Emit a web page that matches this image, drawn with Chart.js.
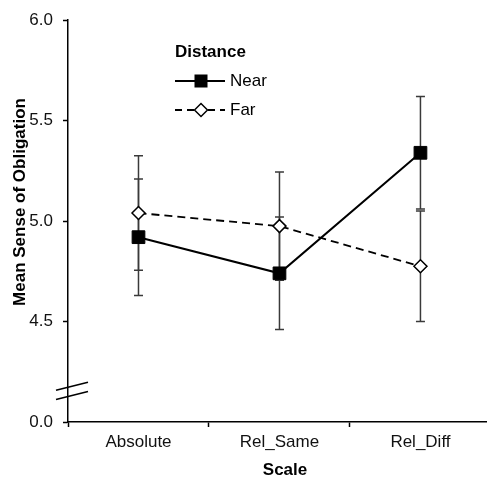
<!DOCTYPE html>
<html><head><meta charset="utf-8">
<script src="https://cdn.jsdelivr.net/npm/chart.js@4/dist/chart.umd.min.js"></script>
<style>html,body{margin:0;padding:0;background:#fff;overflow:hidden;width:487px;height:479px}</style>
</head><body><canvas id="c" width="497" height="479"></canvas>
<script>
const categories = ['Absolute', 'Rel_Same', 'Rel_Diff'];
const nearMeans = [4.92, 4.74, 5.34];
const nearErr = [0.29, 0.28, 0.28];
const farMeans = [5.04, 4.975, 4.775];
const farErr = [0.285, 0.27, 0.275];
const yTickValues = [4.0, 4.5, 5.0, 5.5, 6.0];
const yTickLabels = ['0.0', '4.5', '5.0', '5.5', '6.0'];
const seriesNames = ['Near', 'Far'];
const legendTitle = 'Distance';
const xTitle = 'Scale';
const yTitle = 'Mean Sense of Obligation';
const breakValue = 4.155;

const FONT = '"Liberation Sans", Arial, Helvetica, sans-serif';
const toPoints = (arr) => arr.map((v, i) => ({x: i + 0.5, y: v}));
const errs = [nearErr, farErr];

const errorBars = {
  id: 'errorBars',
  beforeDatasetsDraw(chart) {
    const {ctx, scales: {x, y}} = chart;
    ctx.save();
    ctx.strokeStyle = '#3a3a3a';
    ctx.lineWidth = 1.5;
    chart.data.datasets.forEach((ds, di) => {
      ds.data.forEach((p, i) => {
        const px = x.getPixelForValue(p.x);
        const yt = y.getPixelForValue(p.y + errs[di][i]);
        const yb = y.getPixelForValue(p.y - errs[di][i]);
        ctx.beginPath();
        ctx.moveTo(px, yt); ctx.lineTo(px, yb);
        ctx.moveTo(px - 4.5, yt); ctx.lineTo(px + 4.5, yt);
        ctx.moveTo(px - 4.5, yb); ctx.lineTo(px + 4.5, yb);
        ctx.stroke();
      });
    });
    ctx.restore();
  }
};

const axisExtras = {
  id: 'axisExtras',
  afterDraw(chart) {
    const {ctx, scales: {y}} = chart;
    const x0 = y.right + 4;
    const yc = y.getPixelForValue(breakValue);
    ctx.save();
    ctx.strokeStyle = '#000';
    ctx.lineWidth = 1.5;
    [-4.7, 4.7].forEach(o => {
      ctx.beginPath();
      ctx.moveTo(x0 - 16, yc + o + 4);
      ctx.lineTo(x0 + 16, yc + o - 4);
      ctx.stroke();
    });
    ctx.fillStyle = '#000';
    ctx.textAlign = 'center';
    ctx.textBaseline = 'middle';
    ctx.font = 'bold 17px ' + FONT;
    ctx.fillText(xTitle, 285, 470);
    ctx.translate(20, 202);
    ctx.rotate(-Math.PI / 2);
    ctx.fillText(yTitle, 0, 0);
    ctx.restore();
  }
};

const customLegend = {
  id: 'customLegend',
  afterDraw(chart) {
    const ctx = chart.ctx;
    ctx.save();
    ctx.fillStyle = '#000';
    ctx.textBaseline = 'middle';
    ctx.textAlign = 'left';
    ctx.font = 'bold 17px ' + FONT;
    ctx.fillText(legendTitle, 175, 52);
    ctx.strokeStyle = '#000';
    ctx.lineWidth = 2;
    ctx.beginPath(); ctx.moveTo(175, 81); ctx.lineTo(225, 81); ctx.stroke();
    ctx.fillRect(201 - 6.5, 81 - 6.5, 13, 13);
    ctx.font = '17px ' + FONT;
    ctx.fillText(seriesNames[0], 230, 81);
    ctx.lineWidth = 1.8;
    ctx.setLineDash([7, 5]);
    ctx.beginPath(); ctx.moveTo(175, 110); ctx.lineTo(194, 110); ctx.stroke();
    ctx.beginPath(); ctx.moveTo(208, 110); ctx.lineTo(225, 110); ctx.stroke();
    ctx.setLineDash([]);
    ctx.lineWidth = 1.5;
    ctx.fillStyle = '#fff';
    ctx.beginPath();
    ctx.moveTo(201 - 6.5, 110); ctx.lineTo(201, 110 - 6.5); ctx.lineTo(201 + 6.5, 110); ctx.lineTo(201, 110 + 6.5); ctx.closePath();
    ctx.fill(); ctx.stroke();
    ctx.fillStyle = '#000';
    ctx.fillText(seriesNames[1], 230, 110);
    ctx.restore();
  }
};

new Chart(document.getElementById('c'), {
  type: 'line',
  data: {
    datasets: [
      {
        label: seriesNames[0],
        data: toPoints(nearMeans),
        borderColor: '#000',
        borderWidth: 2,
        pointStyle: 'rect',
        pointRadius: 9,
        pointBackgroundColor: '#000',
        pointBorderColor: '#000',
        pointBorderWidth: 1,
        tension: 0
      },
      {
        label: seriesNames[1],
        data: toPoints(farMeans),
        borderColor: '#000',
        borderWidth: 1.8,
        borderDash: [8, 5],
        pointStyle: 'rectRot',
        pointRadius: 6.5,
        pointBackgroundColor: '#fff',
        pointBorderColor: '#000',
        pointBorderWidth: 1.5,
        tension: 0
      }
    ]
  },
  options: {
    responsive: false,
    animation: false,
    layout: {padding: {top: 19, right: 0, bottom: 0, left: 0}},
    plugins: {legend: {display: false}, tooltip: {enabled: false}},
    scales: {
      x: {
        type: 'linear',
        min: 0,
        max: 2.972,
        afterFit: s => { s.height = 57; },
        afterBuildTicks: s => {
          const t = [];
          categories.forEach((c, i) => { t.push({value: i}); t.push({value: i + 0.5}); });
          s.ticks = t;
        },
        border: {color: '#000', width: 1.5},
        grid: {
          drawOnChartArea: false,
          tickLength: 5,
          tickWidth: 1.5,
          tickColor: c => (c.tick && Number.isInteger(c.tick.value)) ? '#000' : 'rgba(0,0,0,0)'
        },
        ticks: {
          autoSkip: false,
          maxRotation: 0,
          padding: 5,
          color: '#111',
          font: {family: FONT, size: 17},
          callback: v => Number.isInteger(v) ? '' : categories[Math.floor(v)]
        },
        title: {display: false}
      },
      y: {
        type: 'linear',
        min: 4,
        max: 6,
        afterFit: s => { s.width = 68; },
        afterBuildTicks: s => { s.ticks = yTickValues.map(v => ({value: v})); },
        border: {color: '#000', width: 1.5},
        grid: {drawOnChartArea: false, tickLength: 5, tickWidth: 1.5, tickColor: '#000'},
        ticks: {
          padding: 10,
          color: '#111',
          font: {family: FONT, size: 17},
          callback: v => yTickLabels[yTickValues.findIndex(t => Math.abs(t - v) < 1e-9)]
        },
        title: {display: false}
      }
    }
  },
  plugins: [errorBars, axisExtras, customLegend]
});
</script>
</body></html>
